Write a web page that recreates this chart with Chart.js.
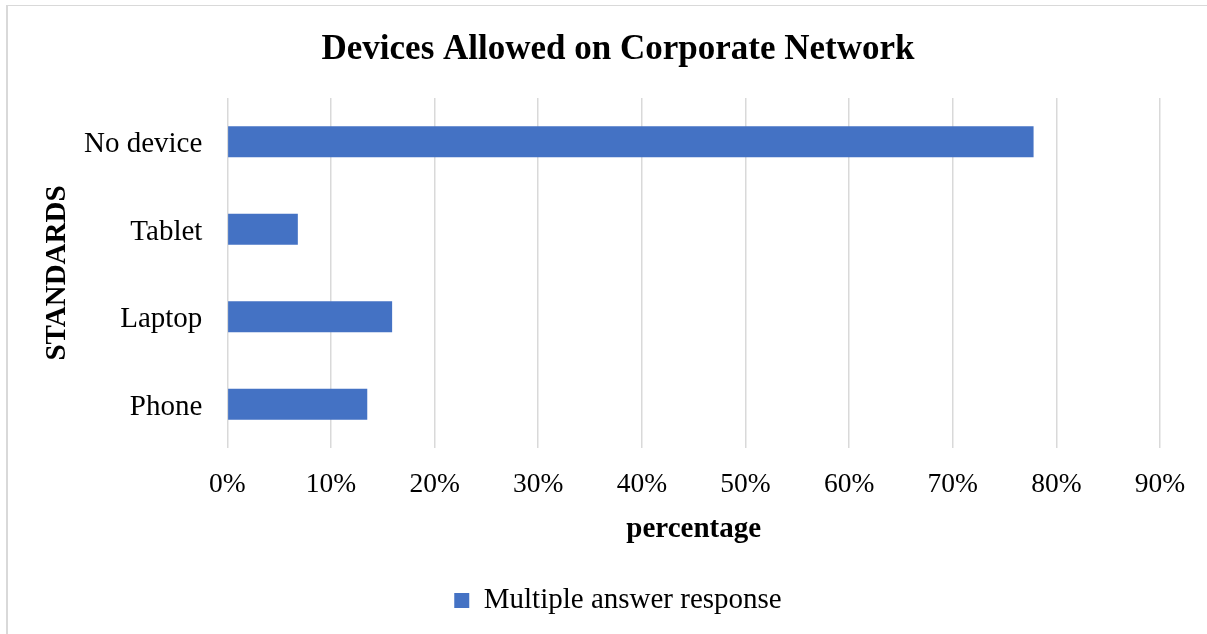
<!DOCTYPE html>
<html>
<head>
<meta charset="utf-8">
<title>Devices Allowed on Corporate Network</title>
<script src="https://cdn.jsdelivr.net/npm/chart.js@4/dist/chart.umd.min.js"></script>
<style>
  html, body { margin: 0; padding: 0; background: #fff; overflow: hidden; }
  #frame {
    position: absolute; left: 6px; top: 5px;
    width: 1220px; height: 650px;
    border-left: 2px solid #d9d9d9;
    border-top: 1px solid #d9d9d9;
  }
  #frame canvas { display: block; }
</style>
</head>
<body>
<div id="frame"><canvas id="devices-chart" width="1220" height="650"></canvas></div>
<script>
// survey answers, listed top to bottom as drawn
const categories = ["No device", "Tablet", "Laptop", "Phone"];
const responseValues = [77.8, 6.8, 15.9, 13.5];
const tickLabels = ["0%", "10%", "20%", "30%", "40%", "50%", "60%", "70%", "80%", "90%"];

const serif = "'Liberation Serif', 'Times New Roman', serif";

function renderDevicesChart() {
  const ctx = document.getElementById("devices-chart");
  new Chart(ctx, {
    type: "bar",
    data: {
      labels: categories,
      datasets: [{
        label: "Multiple answer response",
        data: responseValues,
        backgroundColor: "#4472c4",
        borderWidth: 0,
        categoryPercentage: 1,
        barPercentage: 0.354
      }]
    },
    options: {
      indexAxis: "y",
      responsive: false,
      animation: false,
      devicePixelRatio: 1,
      layout: { padding: { left: 0, right: 0, top: 0, bottom: 31 } },
      plugins: {
        title: {
          display: true,
          text: "Devices Allowed on Corporate Network",
          color: "#000",
          font: { family: serif, size: 35, weight: "bold", lineHeight: 1.2 },
          padding: { top: 23, bottom: 27 }
        },
        legend: {
          position: "bottom",
          labels: {
            color: "#000",
            font: { family: serif, size: 29 },
            boxWidth: 15,
            boxHeight: 15,
            padding: 10
          }
        },
        tooltip: { enabled: false }
      },
      scales: {
        x: {
          min: 0,
          max: 90,
          ticks: {
            stepSize: 10,
            color: "#000",
            font: { family: serif, size: 27.5, lineHeight: 1.2 },
            padding: 20.5,
            maxRotation: 0,
            callback: (value, index) => tickLabels[index]
          },
          grid: { color: "#d9d9d9", lineWidth: 1.5, drawTicks: false },
          border: { display: false },
          title: {
            display: true,
            text: "percentage",
            color: "#000",
            font: { family: serif, size: 29, weight: "bold", lineHeight: 1.2 },
            padding: { top: -9.4, bottom: 28.6 }
          },
          // plot stops short of the frame's cropped right side
          afterFit: scale => { scale.paddingRight = 68; }
        },
        y: {
          ticks: {
            color: "#000",
            font: { family: serif, size: 29, lineHeight: 1.2 },
            padding: 25,
            labelOffset: 3
          },
          grid: { display: false, drawTicks: false },
          border: { display: false },
          title: {
            display: true,
            text: "STANDARDS",
            color: "#000",
            font: { family: serif, size: 29, weight: "bold", lineHeight: 1.2 },
            padding: { top: 32.6, bottom: -16.4 }
          }
        }
      }
    }
  });
}

renderDevicesChart();
</script>
</body>
</html>
